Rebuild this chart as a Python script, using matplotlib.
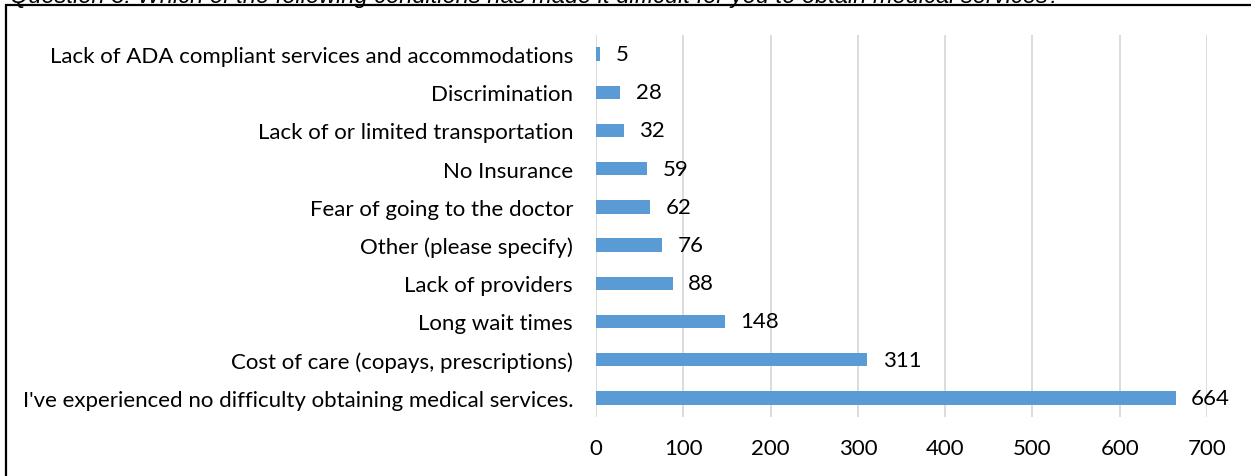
import matplotlib
matplotlib.use("Agg")
import matplotlib.pyplot as plt
from matplotlib.patches import Rectangle

categories = [
    "I've experienced no difficulty obtaining medical services.",
    "Cost of care (copays, prescriptions)",
    "Long wait times",
    "Lack of providers",
    "Other (please specify)",
    "Fear of going to the doctor",
    "No Insurance",
    "Lack of or limited transportation",
    "Discrimination",
    "Lack of ADA compliant services and accommodations",
]
values = [664, 311, 148, 88, 76, 62, 59, 32, 28, 5]
xticks = [0, 100, 200, 300, 400, 500, 600, 700]
title = "Question 3: Which of the following conditions has made it difficult for you to obtain medical services?"

W, H = 1251, 477
fig = plt.figure(figsize=(W/100, H/100), dpi=100)
font = "Lato"
fs = 16

ax = fig.add_axes([596/W, 1-418/H, (1207-596)/W, (418-36)/H])
ypos = list(range(len(categories)))
ax.barh(ypos, values, height=0.35, color="#5B9BD5", zorder=3)
ax.set_xlim(0, 700)
ax.set_ylim(-0.5, len(categories)-0.5)
ax.set_xticks(xticks)
ax.set_xticklabels([str(t) for t in xticks], fontsize=fs, family=font)
ax.set_yticks(ypos)
ax.set_yticklabels(categories, fontsize=fs, family=font)
ax.tick_params(axis="both", length=0)
ax.tick_params(axis="x", pad=15)
ax.tick_params(axis="y", pad=16.5)
ax.grid(axis="x", color="#D9D9D9", linewidth=1.3, zorder=0)
for s in ax.spines.values():
    s.set_visible(False)
for y, v in zip(ypos, values):
    ax.annotate(str(v), (v, y), xytext=(11, 0), textcoords="offset points",
                va="center", ha="left", fontsize=fs, family=font)

fig.patches.append(Rectangle((6/W, -0.1), 1.2, 1-6/H+0.1, transform=fig.transFigure,
                             fill=False, edgecolor="black", linewidth=1.6))
fig.text(10/W, 1-3.5/H, title, ha="left", va="baseline", fontsize=17, style="italic",
         family="Liberation Sans")

fig.savefig("out.png", dpi=100)
